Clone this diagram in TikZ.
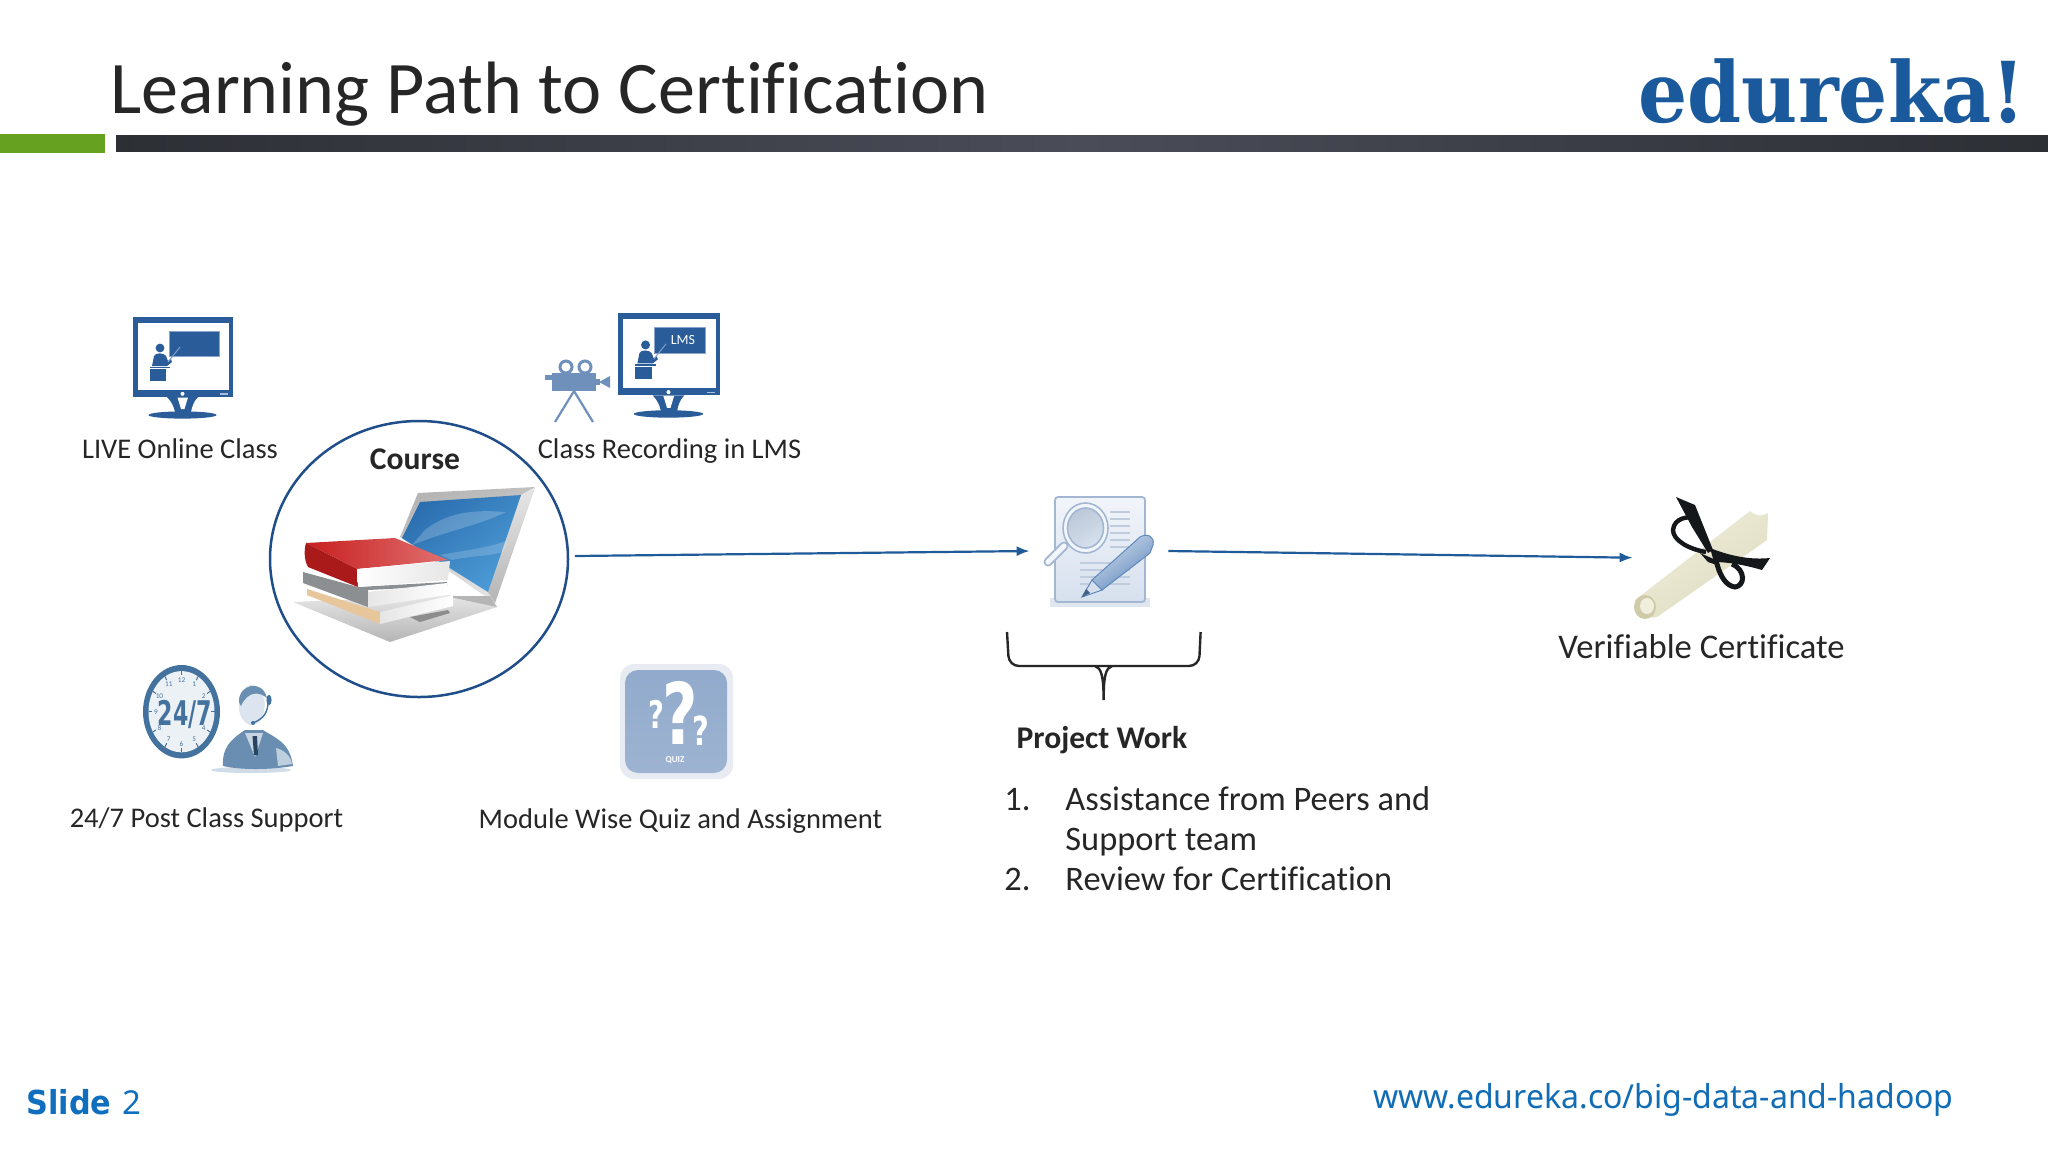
\documentclass[tikz,border=0pt]{standalone}
\usepackage{fontspec}
\setmainfont[Ligatures=CommonOff]{Carlito}
\newfontfamily\logofont{DejaVu Serif}
\newfontfamily\heavyfont{DejaVu Sans}
\newfontfamily\slidefont{Noto Sans}
\usetikzlibrary{shapes.geometric,arrows.meta,calc}
\definecolor{navy}{HTML}{2A5C9A}
\definecolor{ring}{HTML}{1F4E8A}
\definecolor{lineblue}{HTML}{1F5A99}
\definecolor{ink}{HTML}{262626}
\definecolor{logoblue}{HTML}{1A5A9C}
\definecolor{slideblue}{HTML}{0F6FBE}
\definecolor{urlblue}{HTML}{0F6CB5}
\definecolor{camblue}{HTML}{7090BC}
\definecolor{clockblue}{HTML}{44729F}
\definecolor{tile}{HTML}{9DB3D1}
\definecolor{tileedge}{HTML}{E8ECF2}
\definecolor{barlight}{HTML}{4A4C58}
\definecolor{bardark}{HTML}{2C2F34}
\definecolor{leaf}{HTML}{66A11F}
\definecolor{lidA}{HTML}{E6E6E6}
\definecolor{lidB}{HTML}{B5B5B5}
\definecolor{scrA}{HTML}{2C6FB0}
\definecolor{scrB}{HTML}{4C9BD6}
\definecolor{redA}{HTML}{C81F1F}
\definecolor{redB}{HTML}{E07070}
\definecolor{greyA}{HTML}{8C8F92}
\definecolor{greyB}{HTML}{75787C}
\definecolor{tan}{HTML}{E8C69C}
\definecolor{pageA}{HTML}{F2F5FA}
\definecolor{pageB}{HTML}{D6E0EE}
\definecolor{pageE}{HTML}{A3B7D2}
\definecolor{pline}{HTML}{BFCCDD}
\definecolor{penA}{HTML}{D3DFEE}
\definecolor{penB}{HTML}{5F88BC}
\definecolor{glass}{HTML}{BCC8D8}
\definecolor{creamA}{HTML}{F0EEDC}
\definecolor{creamB}{HTML}{DEDBBF}
\definecolor{creamC}{HTML}{CFCBA8}
\definecolor{ribbon}{HTML}{15181B}
\definecolor{face}{HTML}{DCE4F0}
\tikzset{
  label/.style={font=\fontsize{14.25}{15}\selectfont,text=ink,inner sep=0pt,anchor=base},
  boldlabel/.style={font=\fontsize{15.8}{17}\selectfont\bfseries,text=ink,inner sep=0pt,anchor=base},
  listtext/.style={font=\fontsize{17.2}{20}\selectfont,text=ink,inner sep=0pt,anchor=base west},
  flow/.style={lineblue,line width=1.1pt,-{Latex[length=6.5pt,width=5pt]}},
  anchorbox/.style={inner sep=0pt,minimum width=#1,minimum height=1pt},
}
\newcommand{\deskicon}{%
  \fill[navy] (133,317) rectangle (233,397);
  \fill[white] (138,323) rectangle (229,390);
  \fill[navy,draw=navy!55!white,line width=.5pt] (169,331) rectangle (219,356);
  \fill[navy] (160,348) circle[radius=2.2pt];
  \fill[navy] (152,366) -- (154,356) .. controls (155,352.5) and (164,352.5) .. (166,356) -- (168,361) -- (171,359) -- (172,362) -- (167,366) -- cycle;
  \draw[navy!60!white,line width=.5pt] (168,362) -- (180,347);
  \fill[navy] (150,366.5) rectangle (170,368);
  \fill[navy] (150,369) rectangle (166,381);
  \fill[navy] (167,397) .. controls (172,402) and (174,407) .. (175,412) -- (191,412) .. controls (192,407) and (193,402) .. (198,397) -- cycle;
  \fill[white] (182.5,393.8) circle[radius=1pt];
  \fill[white] (177.5,397.5) -- (188,397.5) -- (184.5,409) -- (181,409) -- cycle;
  \fill[navy] (182.5,415) ellipse[x radius=17pt,y radius=1.8pt];
  \fill[white!60!navy] (220,393.4) rectangle (228,394.6);
}
\begin{document}
\begin{tikzpicture}[x=0.5pt,y=-0.5pt]
\useasboundingbox (0,0) rectangle (2048,1152);
\fill[white] (0,0) rectangle (2048,1152);
% header
\node[font=\fontsize{37.1}{40}\selectfont,text=ink,inner sep=0pt,anchor=base west] (title) at (110,113.3) {Learning Path to Certification};
\node[font=\logofont\bfseries\fontsize{42}{44}\selectfont,text=logoblue,inner sep=0pt,anchor=base east] (logo) at (2026,122.7) {\scalebox{0.92}[1]{edureka!}};
\fill[leaf] (0,134) rectangle (104.6,153);
\shade[left color=bardark,right color=bardark,middle color=barlight] (116,135) rectangle (2048,151);
% monitors
\deskicon
\begin{scope}[shift={(618,313)},xscale=1.02,yscale=1.03,shift={(-133,-317)}]
\deskicon
\end{scope}
\node[font=\fontsize{7}{8}\selectfont,text=white,inner sep=0pt] (lms) at (683,339.5) {LMS};
% camera
\fill[camblue] (552,373) rectangle (596,391);
\fill[camblue] (545,375) rectangle (552,380);
\fill[camblue] (599,382) -- (610,376) -- (610,388) -- cycle;
\fill[camblue] (596,379) rectangle (600,385);
\draw[camblue,line width=1.5pt] (566,367) circle[radius=3pt] (585,367) circle[radius=3pt];
\draw[camblue,line width=1.1pt] (555,422) -- (574,391) -- (593,422);
% labels top
\node[label] (live) at (180,458.3) {LIVE Online Class};
\node[label] (rec) at (669.5,458.3) {Class Recording in LMS};
% course
\node[draw=ring,line width=1.25pt,fill=none,shape=ellipse,minimum width=149pt,minimum height=138pt,inner sep=0pt] (course) at (419,559) {};
\node[boldlabel] (coursetxt) at (415,469.3) {Course};
% laptop
\shade[left color=lidB,right color=lidA,shading angle=20] (418,493) -- (535,487) -- (495,603) -- (400,537) -- cycle;
\shade[left color=lidA,right color=lidB,shading angle=15] (521,495) -- (535,487) -- (495,603) -- (488,592) -- cycle;
\shade[left color=scrA,right color=scrB,shading angle=40] (420,502) -- (521,495) -- (488,592) -- (402,538) -- cycle;
\fill[white,opacity=.2] (425,530) .. controls (450,510) and (480,510) .. (506,512) .. controls (480,525) and (450,530) .. (412,545) -- cycle;
\fill[white,opacity=.18] (440,555) .. controls (465,550) and (490,548) .. (508,540) -- (503,552) .. controls (490,556) and (470,556) .. (452,560) -- cycle;
\shade[top color=lidA,bottom color=lidB] (293,602) -- (453,595) -- (497,607) -- (390,642) -- cycle;
\fill[black!45] (410,617) -- (448,610) -- (450,613) -- (420,622) -- cycle;
\fill[lidB] (445,596) -- (497,607) -- (490,596) -- cycle;
% books
\fill[tan] (307,589) -- (380,612) -- (380,624) -- (307,595) -- cycle;
\shade[left color=lidA,right color=white] (380,612) -- (453,595) -- (453,606) -- (380,624) -- cycle;
\fill[greyA] (303,572) -- (358,587) -- (447,582) -- (447,586) -- (368,590) -- (368,607) -- (303,583) -- cycle;
\shade[left color=lidA,right color=white] (368,592) -- (447,583) -- (447,595) -- (368,607) -- cycle;
\shade[left color=redA,right color=redB] (306,543) -- (395,538) -- (448,560) -- (357,569) -- cycle;
\fill[redA!85!black] (306,543) .. controls (304,550) and (304,560) .. (308,567) -- (358,587) -- (357,569) -- cycle;
\shade[left color=white,right color=lidA] (357,569) -- (450,561) -- (448,580) -- (358,587) -- cycle;
% connectors
\coordinate (courseout) at ([xshift=2.85pt,yshift=1.5pt]course.east);
\node[anchorbox=69pt] (project) at (1099,551) {};
\node[anchorbox=6pt] (cert) at (1639,557.7) {};
\draw[flow] (courseout) -- (project.west);
\draw[flow] (project.east) -- (cert.west);
% project icon
\fill[pageE!35] (1050,598) rectangle (1150,607);
\shade[top color=pageA,bottom color=pageB,draw=pageE,line width=.9pt,rounded corners=1.5pt] (1055,497) rectangle (1145,602);
\foreach \yy in {512,519,526,533,540,547}{\draw[pline,line width=1pt] (1110,\yy) -- (1130,\yy);}
\foreach \yy in {563,570,577,584}{\draw[pline,line width=1pt] (1080,\yy) -- (1130,\yy);}
\draw[pageE,line width=4.5pt,line cap=round] (1064,546) -- (1048,562);
\draw[pageA,line width=2.6pt,line cap=round] (1064,546) -- (1048,562);
\fill[pageA] (1085.5,528) ellipse[x radius=11.25pt,y radius=12.5pt];
\draw[pageE,line width=.8pt] (1085.5,528) ellipse[x radius=11.25pt,y radius=12.5pt];
\shade[top color=glass,bottom color=pageB,shading angle=30] (1085.5,528) ellipse[x radius=9pt,y radius=10pt];
\draw[pageE,line width=.8pt] (1085.5,528) ellipse[x radius=9pt,y radius=10pt];
\fill[pageB,draw=penB,line width=.5pt] (1082,597) -- (1092,580) -- (1102,590) -- cycle;
\shade[left color=penA,right color=penB,shading angle=35,draw=penB,line width=.5pt] (1092,580) -- (1140,537) .. controls (1147,533) and (1155,536) .. (1153,545) -- (1150,553) -- (1102,590) -- cycle;
\fill[penB!70!black] (1082,597) -- (1086,589) -- (1090,593) -- cycle;
% project text
\draw[ink,line width=1.2pt,rounded corners=5pt] (1007,632) -- (1009,666) -- (1199,666) -- (1200.6,632);
\draw[ink,line width=1.2pt] (1095,666) .. controls (1101,668) and (1103.6,675) .. (1103.6,700) .. controls (1103.6,675) and (1106,668) .. (1112,666);
\node[boldlabel] (work) at (1102,748) {Project Work};
\node[listtext] (n1) at (1004,810.3) {1.};
\node[listtext] (i1) at (1065,810.3) {Assistance from Peers and};
\node[listtext] (i1b) at (1065,850) {Support team};
\node[listtext] (n2) at (1004,890.5) {2.};
\node[listtext] (i2) at (1065,890.5) {Review for Certification};
% clock
\fill[clockblue] (181.5,711.7) ellipse[x radius=19.25pt,y radius=23.35pt];
\fill[white!90!clockblue] (181.5,711.7) ellipse[x radius=16.5pt,y radius=20.3pt];
\foreach \a in {0,30,...,330}{
  \draw[clockblue,line width=.5pt] ($(181.5,711.7)+({33*cos(\a)},{-40.6*sin(\a)})$) -- ($(181.5,711.7)+({29.5*cos(\a)},{-36.4*sin(\a)})$);
}
\foreach \a/\t in {90/12,60/1,30/2,-30/4,-60/5,-90/6,-120/7,-150/8,180/9,150/10,120/11}{
  \node[font=\fontsize{3.6}{4}\selectfont,text=clockblue,inner sep=0pt] at ($(181.5,711.7)+({25.5*cos(\a)},{-32*sin(\a)})$) {\t};
}
\node[font=\heavyfont\bfseries\fontsize{17}{18}\selectfont,text=clockblue,inner sep=0pt,anchor=base] (clk) at (185,725) {\scalebox{0.65}[1]{24/7}};
% agent
\fill[clockblue!25] (251,770) ellipse[x radius=20pt,y radius=1.5pt];
\fill[clockblue!80] (223,766) .. controls (222,748) and (230,740) .. (245,730) -- (263,730) .. controls (275,738) and (290,742) .. (293,766) .. controls (270,770) and (240,770) .. (223,766) -- cycle;
\fill[white!65!clockblue] (276,748) .. controls (284,750) and (291,756) .. (292,764) -- (278,766) -- cycle;
\fill[face] (251.7,705) ellipse[x radius=6.5pt,y radius=10pt];
\fill[clockblue!80] (239,702) .. controls (238,685) and (262,678) .. (267,698) .. controls (260,692) and (248,690) .. (241,706) -- cycle;
\fill[clockblue] (269,700) ellipse[x radius=1.3pt,y radius=2.6pt];
\draw[clockblue,line width=.7pt] (268,704) .. controls (267,716) and (260,720) .. (253,723);
\fill[clockblue] (253,723) circle[radius=1pt];
\fill[white!70!clockblue] (245,733) -- (255,757) -- (263,733) -- cycle;
\fill[clockblue!60!black] (252.5,736) -- (257,736) -- (258,755) -- (254,755) -- cycle;
\node[label] (sup) at (206.5,827.6) {24/7 Post Class Support};
% quiz tile
\fill[tileedge,rounded corners=7pt] (620,664) rectangle (733,779);
\shade[top color=tile!90!navy,bottom color=tile,rounded corners=6.5pt] (625,670) rectangle (727,773);
\node[font=\heavyfont\bfseries\fontsize{42.5}{44}\selectfont,text=white,inner sep=0pt,anchor=base] (q1) at (680,744) {\scalebox{0.72}[1]{?}};
\node[font=\heavyfont\bfseries\fontsize{19}{20}\selectfont,text=white,inner sep=0pt,anchor=base] (q2) at (656,728) {\scalebox{0.72}[1]{?}};
\node[font=\heavyfont\bfseries\fontsize{20}{21}\selectfont,text=white,inner sep=0pt,anchor=base] (q3) at (701,745) {\scalebox{0.72}[1]{?}};
\node[font=\fontsize{4.5}{5}\bfseries\selectfont,text=white,inner sep=0pt] (qz) at (675,760) {QUIZ};
\node[label] (quiz) at (680.5,828.7) {Module Wise Quiz and Assignment};
% scroll
\shade[left color=creamA,right color=creamB,shading angle=35] (1635,600) -- (1750,511) .. controls (1755,516) and (1762,517) .. (1768,513) -- (1767,540) -- (1657,617) .. controls (1648,620) and (1636,612) .. (1635,600) -- cycle;
\fill[creamC] (1645,607) ellipse[x radius=5.5pt,y radius=6pt];
\fill[creamA] (1647,606) ellipse[x radius=3.5pt,y radius=4pt];
% ribbon
\fill[ribbon] (1700,553) -- (1716,560) -- (1720,566) -- (1708,562) -- cycle;
\fill[ribbon] (1676,497) -- (1695,505) -- (1713,550) -- (1708,553) -- (1692,527) -- cycle;
\draw[ribbon,line width=2.2pt] (1706,552) .. controls (1688,549) and (1673,540) .. (1673,530) .. controls (1674,518) and (1688,516) .. (1695,518);
\fill[ribbon] (1710,548) .. controls (1730,556) and (1750,560) .. (1770,558) -- (1762,570) .. controls (1745,565) and (1728,562) .. (1714,562) -- cycle;
\draw[ribbon,line width=2.5pt] (1716,560) .. controls (1720,578) and (1727,586) .. (1735,587) .. controls (1745,586) and (1746,570) .. (1732,564);
\node[font=\fontsize{17.3}{19}\selectfont,text=ink,inner sep=0pt,anchor=base] (vc) at (1701.5,658.4) {Verifiable Certificate};
% footer
\node[font=\heavyfont\bfseries\fontsize{16.5}{20}\selectfont,text=slideblue,inner sep=0pt,anchor=base west] (slide) at (26,1114.3) {\scalebox{0.92}[1]{Slide}};
\node[font=\slidefont\fontsize{16.5}{20}\selectfont,text=slideblue,inner sep=0pt,anchor=base west] (num) at (122,1114.3) {2};
\node[font=\slidefont\fontsize{16.5}{20}\selectfont,text=urlblue,inner sep=0pt,anchor=base east] (url) at (1954,1108.5) {\scalebox{0.97}[1]{www.edureka.co/big-data-and-hadoop}};
\end{tikzpicture}
\end{document}
